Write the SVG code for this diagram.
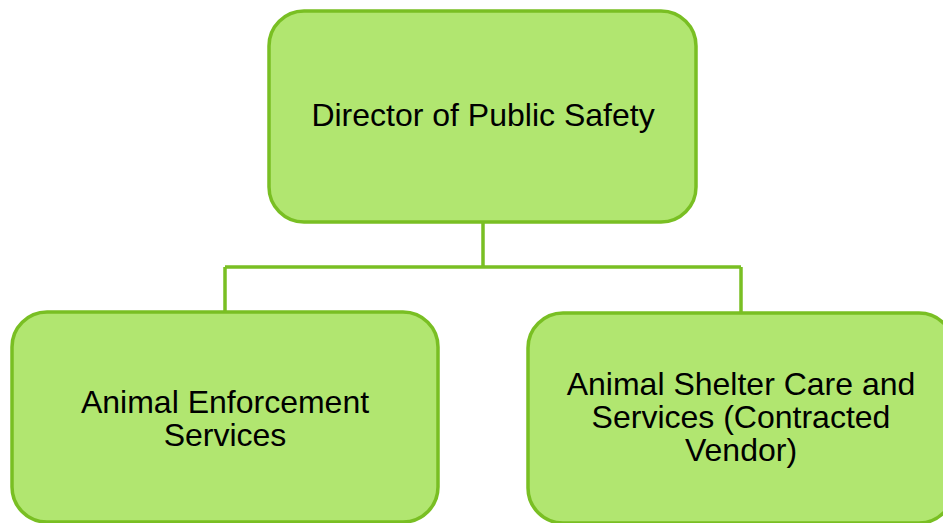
<svg xmlns="http://www.w3.org/2000/svg" width="943" height="523" viewBox="0 0 943 523">
<style>
.box{fill:#b1e670;stroke:#79bf23;stroke-width:3.5}
.lbl{font-family:"Liberation Sans",Arial,sans-serif;font-size:32px;fill:#000;text-anchor:middle}
.conn{fill:none;stroke:#79bf23;stroke-width:3.5}
</style>
<rect width="943" height="523" fill="#fff"/>
<g id="connectors">
<path class="conn" d="M483 222 V267 M225 267 H741 M225 267 V312 M741 267 V313"/>
</g>
<g id="director">
<rect class="box" x="269" y="11" width="427" height="211" rx="35" ry="35"/>
<text class="lbl" x="483" y="126">Director of Public Safety</text>
</g>
<g id="enforcement">
<rect class="box" x="12" y="312" width="426" height="210" rx="35" ry="35"/>
<text class="lbl" x="225" y="413">Animal Enforcement</text>
<text class="lbl" x="225" y="446">Services</text>
</g>
<g id="shelter">
<rect class="box" x="528" y="313" width="426" height="210" rx="35" ry="35"/>
<text class="lbl" x="741" y="395">Animal Shelter Care and</text>
<text class="lbl" x="741" y="428">Services (Contracted</text>
<text class="lbl" x="741" y="461">Vendor)</text>
</g>
</svg>
